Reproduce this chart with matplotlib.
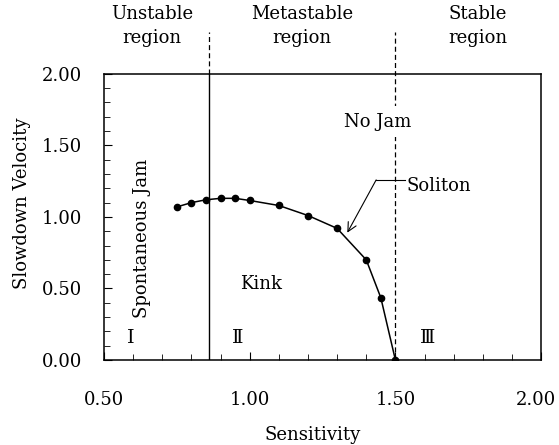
import numpy as np
import matplotlib
matplotlib.use("Agg")
import matplotlib.pyplot as plt
from matplotlib.ticker import MultipleLocator, FormatStrFormatter
from matplotlib.transforms import ScaledTranslation

plt.rcParams['font.family'] = ['DejaVu Serif', 'DejaVu Sans']

# soliton / kink branch
sensitivity = [0.75, 0.80, 0.85, 0.90, 0.95, 1.00, 1.10, 1.20, 1.30, 1.40, 1.45, 1.50]
velocity = [1.07, 1.10, 1.12, 1.13, 1.13, 1.115, 1.08, 1.01, 0.92, 0.70, 0.435, 0.0]

a_unstable = 0.86   # boundary unstable / metastable
a_stable = 1.50     # boundary metastable / stable

fig = plt.figure(figsize=(5.59, 4.45), dpi=100)
ax = fig.add_axes([0.186, 0.191, 0.782, 0.643])

ax.plot(sensitivity, velocity, "-k", lw=1.1, marker="o", markersize=4.5)

# region boundaries
ax.plot([a_unstable, a_unstable], [0, 2.0], "-k", lw=1.0)
ax.plot([a_unstable, a_unstable], [2.0, 2.29], color="k", lw=0.9, ls=(0, (4, 2.5)), clip_on=False)
ax.plot([a_stable, a_stable], [0, 2.29], color="k", lw=0.9, ls=(0, (4, 2.5)), clip_on=False)

fs = 13
ax.text(0.665, 2.335, "Unstable\nregion", ha="center", va="center", fontsize=fs,
        linespacing=1.45, clip_on=False)
ax.text(1.18, 2.335, "Metastable\nregion", ha="center", va="center", fontsize=fs,
        linespacing=1.45, clip_on=False)
ax.text(1.784, 2.335, "Stable\nregion", ha="center", va="center", fontsize=fs,
        linespacing=1.45, clip_on=False)

ax.text(1.439, 1.667, "No Jam", ha="center", va="center", fontsize=fs,
        bbox=dict(facecolor="white", edgecolor="none", pad=5), zorder=5)
ax.text(0.629, 0.85, "Spontaneous Jam", rotation=90, ha="center", va="center", fontsize=fs)
ax.text(1.039, 0.53, "Kink", ha="center", va="center", fontsize=fs)
ax.text(0.592, 0.155, "Ⅰ", ha="center", va="center", fontsize=fs + 1)
ax.text(0.959, 0.155, "Ⅱ", ha="center", va="center", fontsize=fs + 1)
ax.text(1.612, 0.155, "Ⅲ", ha="center", va="center", fontsize=fs + 1)

# soliton leader
ax.text(1.538, 1.215, "Soliton", ha="left", va="center", fontsize=fs, zorder=5)
ax.plot([1.434, 1.534], [1.259, 1.259], "-k", lw=0.8)
ax.annotate("", xy=(1.335, 0.89), xytext=(1.434, 1.259),
            arrowprops=dict(arrowstyle="->", lw=0.8, color="k", mutation_scale=16,
                            shrinkA=0, shrinkB=0))

ax.set_xlim(0.5, 2.0)
ax.set_ylim(0.0, 2.0)
ax.xaxis.set_major_locator(MultipleLocator(0.5))
ax.xaxis.set_minor_locator(MultipleLocator(0.1))
ax.yaxis.set_major_locator(MultipleLocator(0.5))
ax.yaxis.set_minor_locator(MultipleLocator(0.1))
ax.xaxis.set_major_formatter(FormatStrFormatter("%.2f"))
ax.yaxis.set_major_formatter(FormatStrFormatter("%.2f"))
ax.tick_params(which="both", direction="in", top=False, right=False, labelsize=fs)
ax.tick_params(axis="x", which="major", length=6, pad=22)
ax.tick_params(axis="y", which="major", length=6, pad=16)
ax.tick_params(which="minor", length=4)
for s in ax.spines.values():
    s.set_linewidth(1.1)

ax.set_xlabel("Sensitivity", fontsize=fs)
ax.set_ylabel("Slowdown Velocity", fontsize=fs)
ax.xaxis.set_label_coords(0.478, -0.232)
ax.yaxis.set_label_coords(-0.167, 0.549)

# nudge the "2.00" x label a little left, as in the original
fig.canvas.draw()
for t in ax.xaxis.get_major_ticks():
    if t.label1.get_text() == "2.00":
        t.label1.set_transform(t.label1.get_transform()
                               + ScaledTranslation(-4 / 72, 0, fig.dpi_scale_trans))

fig.savefig("out.png", dpi=100)
